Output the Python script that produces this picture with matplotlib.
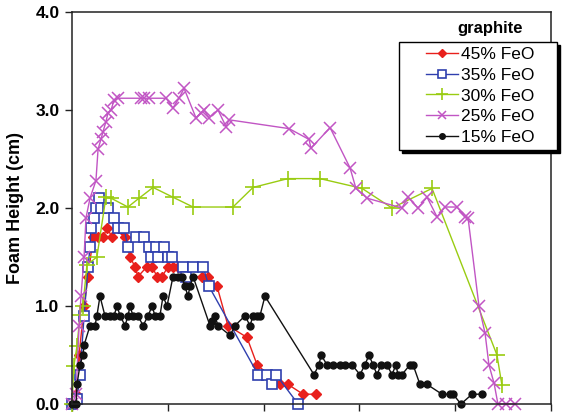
import matplotlib
matplotlib.use("Agg")
import matplotlib.pyplot as plt
from matplotlib.patches import Rectangle

plt.rcParams['font.family'] = ['Liberation Sans', 'DejaVu Sans']

# time (min) and foam height (cm)
x45 = [0, 0.21, 0.37, 0.63, 0.84, 1.10, 1.36, 1.62, 1.83, 2.09, 2.40, 2.61, 2.77, 3.03, 3.29, 3.44,
       3.91, 4.18, 4.44, 4.70, 5.01, 5.27, 5.53, 5.79, 6.00, 6.78, 7.10, 7.57, 8.14, 9.13, 9.66,
       10.86, 11.27, 12.06, 12.73]
y45 = [0, 0.1, 0.5, 1.0, 1.3, 1.7, 1.7, 1.7, 1.8, 1.7, 1.8, 1.78, 1.7, 1.5, 1.4, 1.3,
       1.4, 1.4, 1.3, 1.3, 1.4, 1.4, 1.4, 1.3, 1.3, 1.3, 1.3, 1.2, 0.8, 0.68, 0.4,
       0.2, 0.2, 0.1, 0.1]

x35 = [0, 0.26, 0.42, 0.63, 0.84, 0.94, 0.99, 1.15, 1.25, 1.41, 1.51, 1.88, 2.19, 2.40, 2.71,
       2.92, 3.34, 3.76, 4.02, 4.12, 4.38, 4.49, 4.80, 5.01, 5.22, 5.79, 5.95, 6.32, 6.84, 7.15,
       9.71, 10.18, 10.44, 10.65, 11.80]
y35 = [0, 0.05, 0.3, 0.9, 1.4, 1.6, 1.8, 1.9, 2.0, 2.1, 2.0, 2.0, 1.9, 1.8, 1.8,
       1.6, 1.7, 1.7, 1.6, 1.5, 1.6, 1.5, 1.6, 1.5, 1.5, 1.4, 1.3, 1.4, 1.4, 1.2,
       0.3, 0.3, 0.2, 0.3, 0.0]

x30 = [0, 0.10, 0.26, 0.42, 0.57, 0.78, 1.30, 1.77, 2.04, 2.92, 3.50, 4.23, 5.27, 6.32, 8.40,
       9.45, 11.27, 12.94, 15.14, 16.70, 18.79, 22.18, 22.44]
y30 = [0, 0.39, 0.59, 0.91, 1.0, 1.42, 1.5, 2.11, 2.1, 2.01, 2.1, 2.21, 2.11, 2.01, 2.01,
       2.21, 2.3, 2.3, 2.2, 2.0, 2.2, 0.5, 0.19]

x25 = [0, 0.21, 0.37, 0.47, 0.63, 0.73, 0.94, 1.25, 1.36, 1.51, 1.62, 1.77, 1.88, 2.04, 2.19,
       2.40, 3.60, 3.76, 4.02, 4.91, 5.27, 5.58, 5.85, 6.47, 6.73, 6.89, 7.15, 7.62, 8.04, 8.19,
       11.33, 12.37, 12.47, 13.47, 14.51, 14.82, 15.40, 17.22, 17.54, 18.06, 18.53, 19.05, 19.47,
       20.09, 20.51, 20.67, 21.24, 21.56, 21.76, 22.03, 22.23, 22.65, 23.12]
y25 = [0, 0.1, 0.8, 1.1, 1.5, 1.9, 2.1, 2.28, 2.6, 2.7, 2.78, 2.88, 2.97, 3.0, 3.1,
       3.12, 3.12, 3.12, 3.12, 3.12, 3.02, 3.12, 3.22, 2.92, 2.97, 3.0, 2.92, 3.0, 2.83, 2.9,
       2.81, 2.7, 2.61, 2.82, 2.41, 2.2, 2.1, 2.0, 2.11, 2.0, 2.11, 1.91, 2.01,
       2.01, 1.91, 1.9, 1.0, 0.72, 0.4, 0.21, 0, 0, 0]

x15 = [0, 0.21, 0.26, 0.42, 0.57, 0.63, 0.94, 1.20, 1.30, 1.46, 1.72, 1.98, 2.19, 2.35, 2.51,
       2.77, 2.92, 3.03, 3.18, 3.44, 3.71, 3.97, 4.18, 4.33, 4.59, 4.75, 4.96, 5.27, 5.53, 5.74,
       5.90, 6.05, 6.16, 6.32, 7.20, 7.31, 7.46, 7.62, 8.25, 8.51, 9.03, 9.29, 9.45, 9.66, 9.81,
       10.07, 12.63, 12.89, 13.00, 13.31, 13.62, 13.99, 14.25, 14.61, 15.03, 15.29, 15.50, 15.71,
       15.92, 16.13, 16.44, 16.70, 16.91, 17.01, 17.22, 17.64, 17.80, 18.16, 18.53, 19.31, 19.73,
       19.89, 20.30, 20.88, 21.40]
y15 = [0, 0, 0.2, 0.4, 0.5, 0.6, 0.8, 0.8, 0.9, 1.1, 0.9, 0.9, 0.9, 1.0, 0.9,
       0.8, 0.9, 1.0, 0.9, 0.9, 0.8, 0.9, 1.0, 0.9, 0.9, 1.1, 1.0, 1.3, 1.3, 1.3,
       1.2, 1.1, 1.2, 1.3, 0.8, 0.85, 0.9, 0.8, 0.7, 0.8, 0.9, 0.8, 0.9, 0.9, 0.9,
       1.1, 0.3, 0.4, 0.5, 0.4, 0.4, 0.4, 0.4, 0.4, 0.3, 0.4, 0.5, 0.4,
       0.3, 0.4, 0.4, 0.3, 0.4, 0.3, 0.3, 0.4, 0.4, 0.2, 0.2, 0.1, 0.1,
       0.1, 0, 0.1, 0.1]

labels = ['45% FeO', '35% FeO', '30% FeO', '25% FeO', '15% FeO']
yticks = [0.0, 1.0, 2.0, 3.0, 4.0]
xticks = [0, 5, 10, 15, 20, 25]

W, H = 565, 416
fig = plt.figure(figsize=(W / 100, H / 100), dpi=100)
ax = fig.add_axes([72 / W, 12 / H, (551 - 72) / W, (404 - 12) / H])

ax.plot(x45, y45, color='#e8201c', lw=1.0, marker='D', ms=5, mfc='#e8201c', mec='#e8201c',
        label=labels[0], clip_on=False)
ax.plot(x35, y35, color='#2f3fae', lw=1.0, marker='s', ms=7, mfc='white', mec='#2f3fae', mew=1.2,
        label=labels[1], clip_on=False)
ax.plot(x30, y30, color='#99cc11', lw=1.0, marker='+', ms=11, mew=1.2, mec='#99cc11',
        label=labels[2], clip_on=False)
ax.plot(x25, y25, color='#c155c4', lw=1.0, marker='x', ms=8, mew=1.1, mec='#c155c4',
        label=labels[3], clip_on=False)
ax.plot(x15, y15, color='#111111', lw=1.0, marker='o', ms=5, mfc='#111111', mec='#111111',
        label=labels[4], clip_on=False)

ax.set_xlim(0, 25)
ax.set_ylim(0, 4)
ax.set_xticks(xticks)
ax.set_xticklabels([])
ax.set_yticks(yticks)
ax.set_yticklabels(['%.1f' % v for v in yticks], fontweight='bold', fontsize=12.5)
ax.tick_params(direction='out', length=5, width=1.0, color='#222222', pad=4)
for s in ax.spines.values():
    s.set_linewidth(1.1)
    s.set_color('#222222')
ax.set_ylabel('Foam Height (cm)', fontsize=13, fontweight='bold', labelpad=8)

# legend frame with solid shadow
bx0, by0, bx1, by1 = 399, 42, 557, 150
shadow = Rectangle(((bx0 + 3) / W, 1 - (by1 + 3) / H), (bx1 - bx0) / W, (by1 - by0) / H,
                   transform=fig.transFigure, facecolor='black', edgecolor='black', zorder=20,
                   clip_on=False)
frame = Rectangle((bx0 / W, 1 - by1 / H), (bx1 - bx0) / W, (by1 - by0) / H,
                  transform=fig.transFigure, facecolor='white', edgecolor='black', lw=1.0,
                  zorder=21, clip_on=False)
ax.add_patch(shadow)
ax.add_patch(frame)
leg = ax.legend(loc='upper left', bbox_to_anchor=(426 / W, 1 - 47 / H), bbox_transform=fig.transFigure,
                frameon=False, borderpad=0, borderaxespad=0, fontsize=12.5, handlelength=1.85,
                handletextpad=0.15, labelspacing=0.32, markerscale=0.8)
leg.set_zorder(30)
fig.text(490 / W, 1 - 28 / H, 'graphite', ha='center', va='center', fontsize=12, fontweight='bold')

fig.savefig('out.png', dpi=100)
